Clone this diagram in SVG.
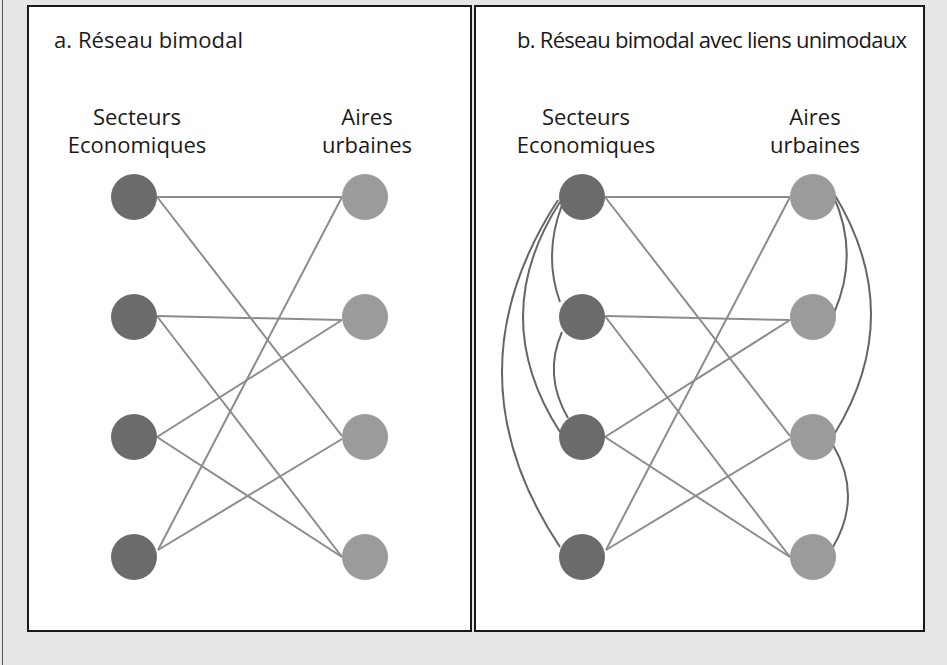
<svg xmlns="http://www.w3.org/2000/svg" width="947" height="665" viewBox="0 0 947 665">
  <style>
    .panel { fill: #ffffff; stroke: #1a1a1a; stroke-width: 2; }
    .title { font-family: "Open Sans", "Liberation Sans", sans-serif; font-size: 22px; fill: #1a1a1a; }
    .head { font-family: "Open Sans", "Liberation Sans", sans-serif; font-size: 22px; fill: #1a1a1a; text-anchor: middle; }
    .sector { fill: #6b6b6b; }
    .area { fill: #9b9b9b; }
    .bi { fill: none; stroke: #8c8c8c; stroke-width: 2; }
    .uni { fill: none; stroke: #666666; stroke-width: 2; }
  </style>

  <!-- page background -->
  <rect x="0" y="0" width="947" height="665" fill="#e6e6e6"/>
  <line x1="2.5" y1="0" x2="2.5" y2="665" stroke="#555555" stroke-width="1"/>

  <!-- panel a -->
  <g id="panel-a">
    <rect class="panel" x="28" y="6" width="443" height="625"/>
    <text class="title" x="54" y="48" textLength="189" lengthAdjust="spacing">a. Réseau bimodal</text>
    <text class="head" x="137" y="125">Secteurs</text>
    <text class="head" x="137" y="153">Economiques</text>
    <text class="head" x="367" y="125">Aires</text>
    <text class="head" x="367" y="153">urbaines</text>

    <g id="a-connectors">
      <line class="bi" x1="157" y1="197" x2="342" y2="197"/>
      <line class="bi" x1="157" y1="197" x2="342" y2="436"/>
      <line class="bi" x1="157" y1="316" x2="342" y2="320"/>
      <line class="bi" x1="157" y1="316" x2="342" y2="557"/>
      <line class="bi" x1="157" y1="437" x2="342" y2="320"/>
      <line class="bi" x1="157" y1="437" x2="342" y2="557"/>
      <line class="bi" x1="158" y1="550" x2="342" y2="197"/>
      <line class="bi" x1="158" y1="550" x2="342" y2="439"/>
    </g>

    <g id="a-s1"><circle class="sector" cx="134" cy="197" r="23"/></g>
    <g id="a-s2"><circle class="sector" cx="134" cy="317" r="23"/></g>
    <g id="a-s3"><circle class="sector" cx="134" cy="437" r="23"/></g>
    <g id="a-s4"><circle class="sector" cx="134" cy="557" r="23"/></g>
    <g id="a-u1"><circle class="area" cx="365" cy="197" r="23"/></g>
    <g id="a-u2"><circle class="area" cx="365" cy="317" r="23"/></g>
    <g id="a-u3"><circle class="area" cx="365" cy="437" r="23"/></g>
    <g id="a-u4"><circle class="area" cx="365" cy="557" r="23"/></g>
  </g>

  <!-- panel b -->
  <g id="panel-b">
    <rect class="panel" x="475" y="6" width="449" height="625"/>
    <text class="title" x="517" y="48" textLength="390" lengthAdjust="spacing">b. Réseau bimodal avec liens unimodaux</text>
    <text class="head" x="586" y="125">Secteurs</text>
    <text class="head" x="586" y="153">Economiques</text>
    <text class="head" x="815" y="125">Aires</text>
    <text class="head" x="815" y="153">urbaines</text>

    <g id="b-connectors">
      <!-- bimodal links -->
      <line class="bi" x1="605" y1="197" x2="790" y2="197"/>
      <line class="bi" x1="605" y1="197" x2="790" y2="436"/>
      <line class="bi" x1="605" y1="316" x2="790" y2="320"/>
      <line class="bi" x1="605" y1="316" x2="790" y2="557"/>
      <line class="bi" x1="605" y1="437" x2="790" y2="320"/>
      <line class="bi" x1="605" y1="437" x2="790" y2="557"/>
      <line class="bi" x1="606" y1="550" x2="790" y2="197"/>
      <line class="bi" x1="606" y1="550" x2="790" y2="439"/>
      <!-- unimodal links between sectors -->
      <path class="uni" d="M562,205 Q543,255 560,302"/>
      <path class="uni" d="M560,202 Q486,317 560,432"/>
      <path class="uni" d="M558,200 Q445,374 560,547"/>
      <path class="uni" d="M562,332 Q543,375 568,418"/>
      <!-- unimodal links between urban areas -->
      <path class="uni" d="M833,195 Q860,254 834,313"/>
      <path class="uni" d="M833,192 Q908,313 835,433"/>
      <path class="uni" d="M833,445 Q863,496 833,547"/>
    </g>

    <g id="b-s1"><circle class="sector" cx="582" cy="197" r="23"/></g>
    <g id="b-s2"><circle class="sector" cx="582" cy="317" r="23"/></g>
    <g id="b-s3"><circle class="sector" cx="582" cy="437" r="23"/></g>
    <g id="b-s4"><circle class="sector" cx="582" cy="557" r="23"/></g>
    <g id="b-u1"><circle class="area" cx="813" cy="197" r="23"/></g>
    <g id="b-u2"><circle class="area" cx="813" cy="317" r="23"/></g>
    <g id="b-u3"><circle class="area" cx="813" cy="437" r="23"/></g>
    <g id="b-u4"><circle class="area" cx="813" cy="557" r="23"/></g>
  </g>
</svg>
